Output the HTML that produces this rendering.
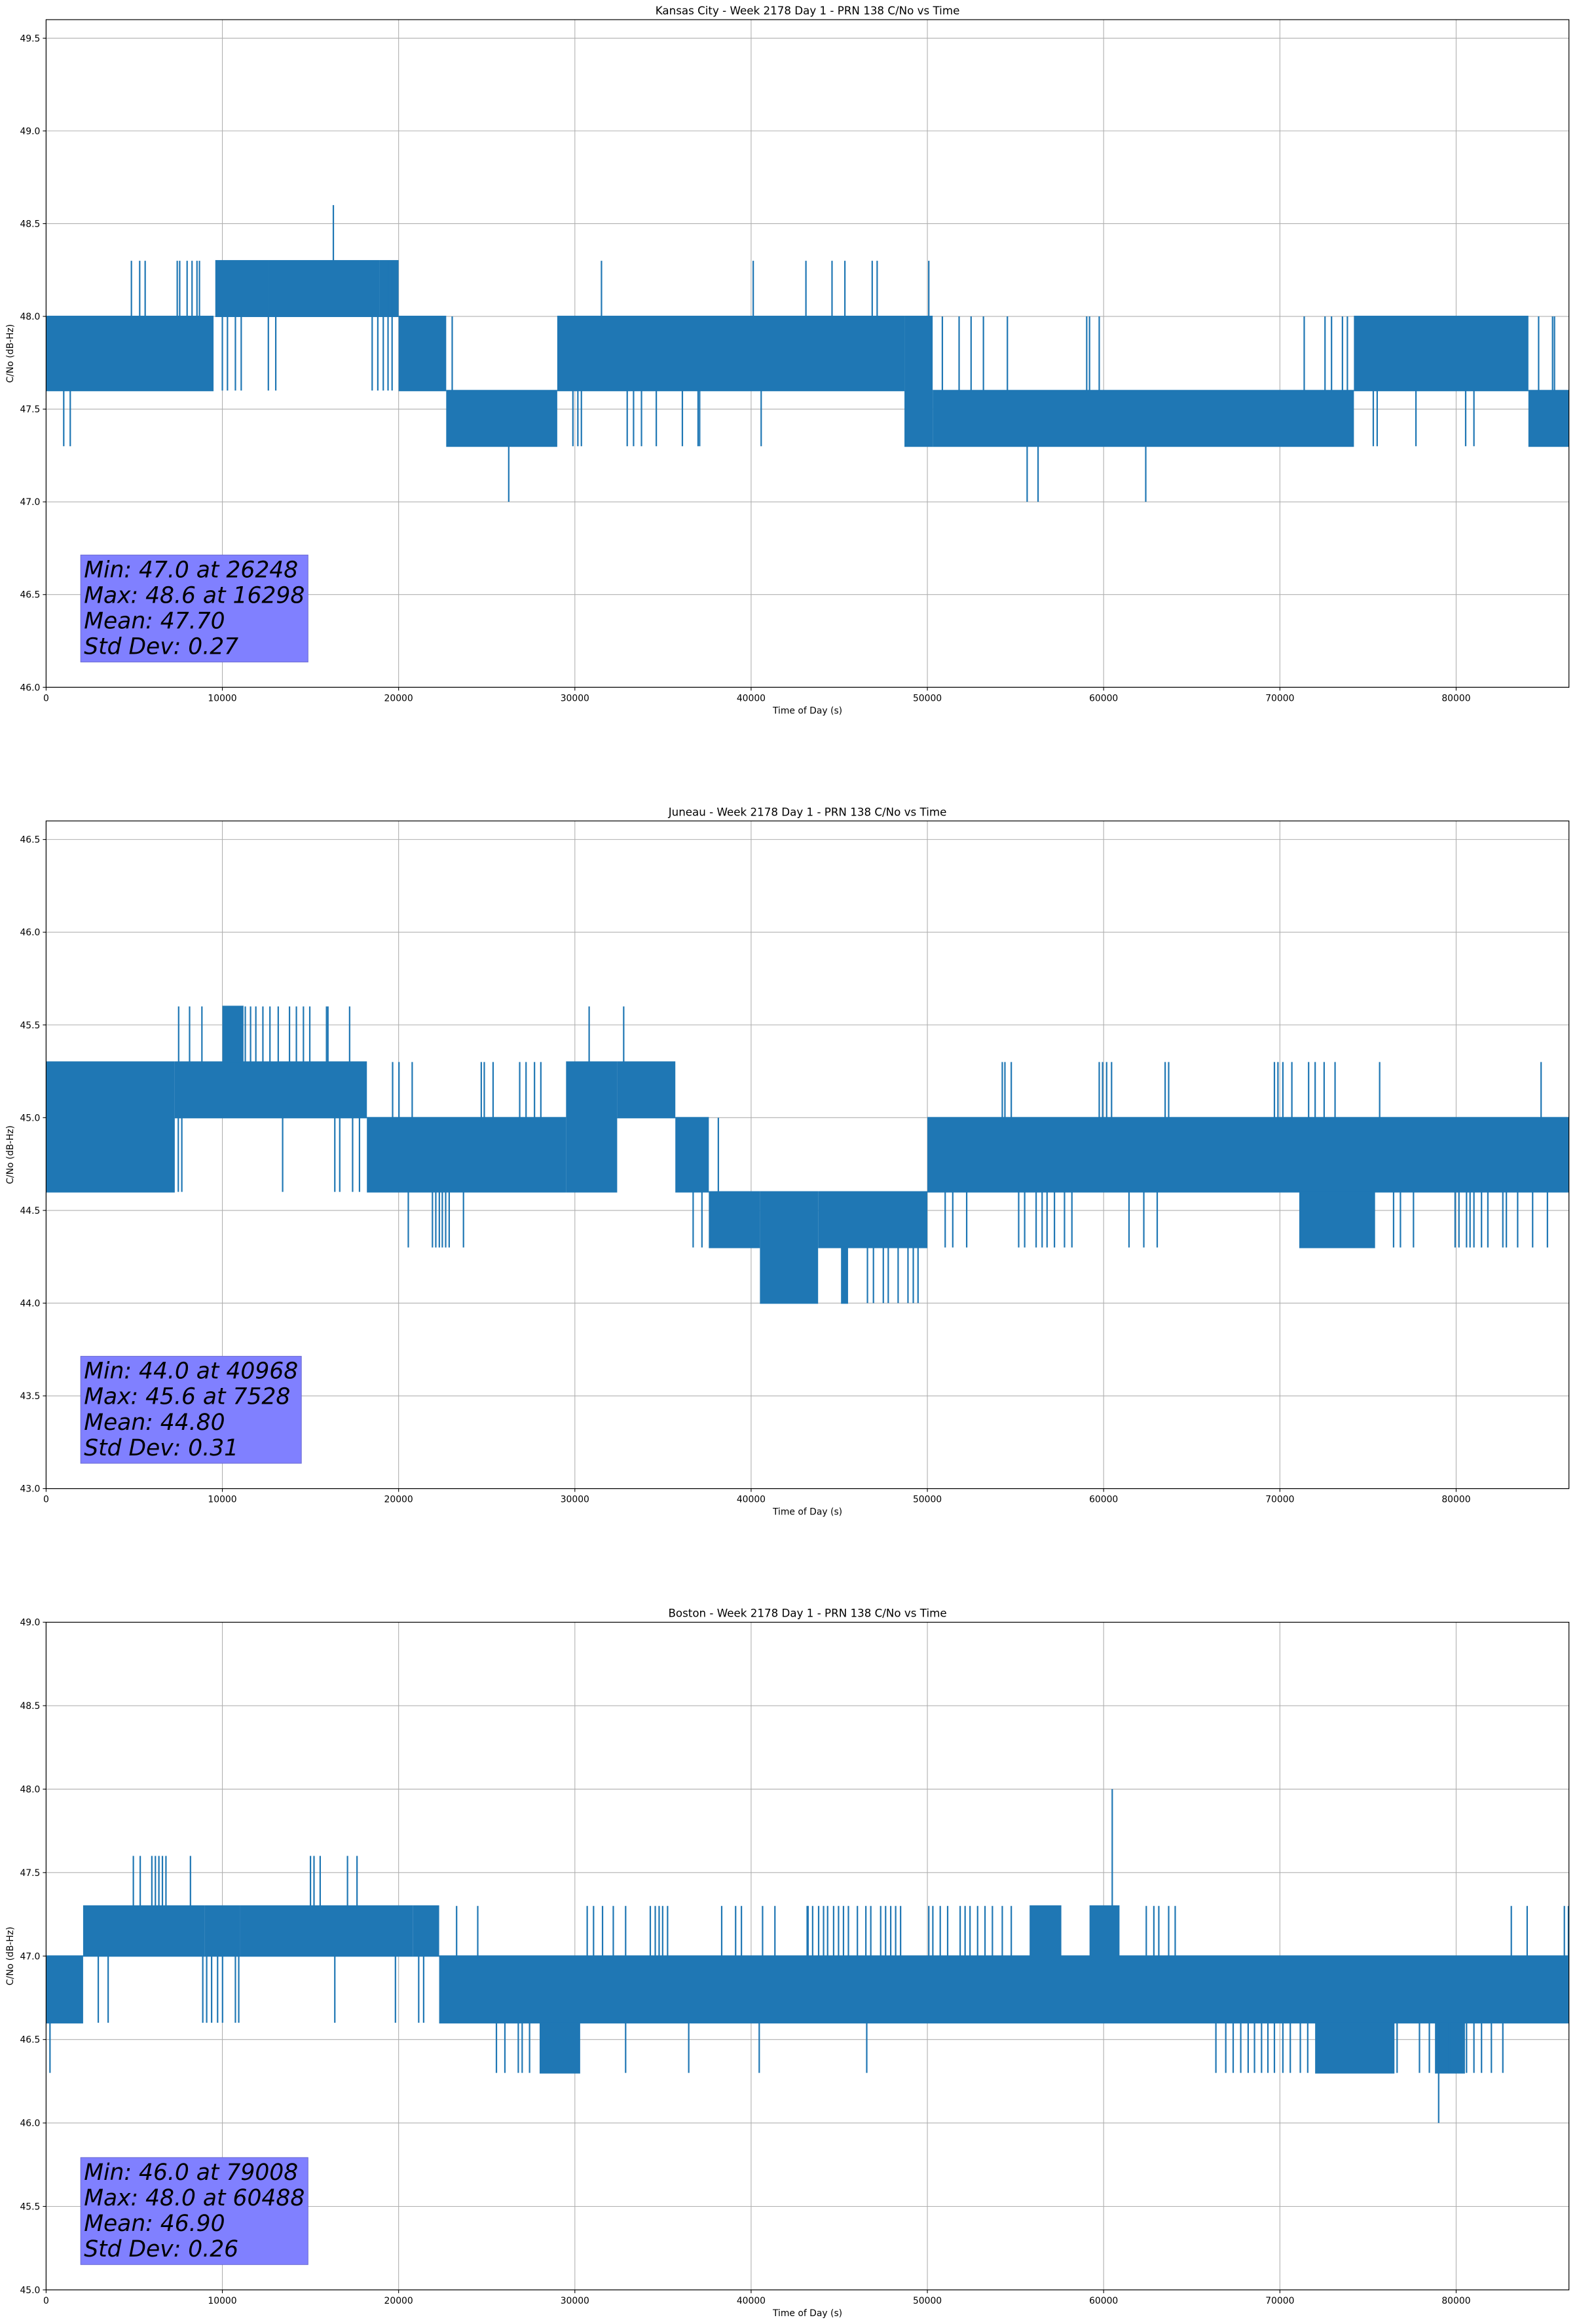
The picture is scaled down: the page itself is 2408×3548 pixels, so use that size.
<!DOCTYPE html>
<html><head><meta charset="utf-8">
<style>
html,body{margin:0;padding:0;background:#fff;}
svg{display:block;}
text{font-family:"DejaVu Sans","Liberation Sans",sans-serif;fill:#000;}
</style></head>
<body>
<svg id="fig" xmlns="http://www.w3.org/2000/svg" width="2408" height="3548" viewBox="0 0 2408 3548"></svg>
<script>
// ---- Data: Kansas City ----
const kcTitle = "Kansas City - Week 2178 Day 1 - PRN 138 C/No vs Time";
const kcYRange = [46.0, 49.6];
const kcYTicks = [46.0, 46.5, 47.0, 47.5, 48.0, 48.5, 49.0, 49.5];
const kcBlocks = [
  [0, 9500, 47.6, 48.0], [9600, 12600, 48.0, 48.3], [12600, 18900, 48.0, 48.3],
  [18900, 20000, 48.0, 48.3], [20000, 22700, 47.6, 48.0], [22700, 29000, 47.3, 47.6],
  [29000, 48700, 47.6, 48.0], [48700, 50300, 47.3, 48.0], [50300, 74200, 47.3, 47.6],
  [74200, 84100, 47.6, 48.0], [84100, 86400, 47.3, 47.6]
];
const kcSpikes = [
  [1000,47.3,47.6],[1370,47.3,47.6],
  [4840,48.0,48.3],[5310,48.0,48.3],[5620,48.0,48.3],[7440,48.0,48.3],[7580,48.0,48.3],[8000,48.0,48.3],[8280,48.0,48.3],[8560,48.0,48.3],[8700,48.0,48.3],
  [10000,47.6,48.0],[10290,47.6,48.0],[10740,47.6,48.0],[11070,47.6,48.0],[12610,47.6,48.0],[13030,47.6,48.0],
  [18500,47.6,48.0],[18820,47.6,48.0],[19130,47.6,48.0],[19400,47.6,48.0],[19630,47.6,48.0],
  [19400,48.0,48.3],[19630,48.0,48.3],[19740,48.0,48.3],
  [16298,48.3,48.6],[26248,47.0,47.3],[23040,47.6,48.0],
  [29890,47.3,47.6],[30170,47.3,47.6],[30370,47.3,47.6],[32970,47.3,47.6],[33330,47.3,47.6],[33780,47.3,47.6],[34620,47.3,47.6],[36100,47.3,47.6],[36990,47.3,47.6],[37080,47.3,47.6],[40570,47.3,47.6],
  [31510,48.0,48.3],[40120,48.0,48.3],[43110,48.0,48.3],[44590,48.0,48.3],[45320,48.0,48.3],[46870,48.0,48.3],[47150,48.0,48.3],[50080,48.0,48.3],
  [55660,47.0,47.3],[56280,47.0,47.3],[62390,47.0,47.3],
  [50850,47.6,48.0],[51800,47.6,48.0],[52480,47.6,48.0],[53180,47.6,48.0],[54540,47.6,48.0],[59040,47.6,48.0],[59200,47.6,48.0],[59750,47.6,48.0],
  [71380,47.6,48.0],[72560,47.6,48.0],[72930,47.6,48.0],[73550,47.6,48.0],[73830,47.6,48.0],
  [75300,47.3,47.6],[75520,47.3,47.6],[77720,47.3,47.6],[80540,47.3,47.6],[81010,47.3,47.6],
  [84680,47.6,48.0],[85470,47.6,48.0],[85580,47.6,48.0]
];
const kcStats = ["Min: 47.0 at 26248", "Max: 48.6 at 16298", "Mean: 47.70", "Std Dev: 0.27"];

// ---- Data: Juneau ----
const juTitle = "Juneau - Week 2178 Day 1 - PRN 138 C/No vs Time";
const juYRange = [43.0, 46.6];
const juYTicks = [43.0, 43.5, 44.0, 44.5, 45.0, 45.5, 46.0, 46.5];
const juBlocks = [
  [0, 7300, 44.6, 45.3], [7300, 18200, 45.0, 45.3], [18200, 29500, 44.6, 45.0],
  [29500, 32400, 44.6, 45.3], [32400, 35700, 45.0, 45.3], [35700, 37600, 44.6, 45.0],
  [37600, 40500, 44.3, 44.6], [40500, 43800, 44.0, 44.6], [43800, 50000, 44.3, 44.6],
  [50000, 86400, 44.6, 45.0], [10000, 11200, 45.3, 45.6], [45100, 45500, 44.0, 44.3],
  [71100, 75400, 44.3, 44.6]
];
const juSpikes = [
  [7520,45.3,45.6],[8140,45.3,45.6],[8840,45.3,45.6],[11300,45.3,45.6],[11600,45.3,45.6],[11900,45.3,45.6],[12300,45.3,45.6],[12700,45.3,45.6],
  [13170,45.3,45.6],[13810,45.3,45.6],[14200,45.3,45.6],[14600,45.3,45.6],[14960,45.3,45.6],[15910,45.3,45.6],[15990,45.3,45.6],[17220,45.3,45.6],
  [30810,45.3,45.6],[32770,45.3,45.6],
  [7500,44.6,45.0],[7700,44.6,45.0],[13420,44.6,45.0],[16380,44.6,45.0],[16660,44.6,45.0],[17390,44.6,45.0],[17780,44.6,45.0],
  [20550,44.3,44.6],[21920,44.3,44.6],[22110,44.3,44.6],[22310,44.3,44.6],[22480,44.3,44.6],[22670,44.3,44.6],[22870,44.3,44.6],[23680,44.3,44.6],
  [19660,45.0,45.3],[20020,45.0,45.3],[20770,45.0,45.3],[24690,45.0,45.3],[24860,45.0,45.3],[25360,45.0,45.3],[26870,45.0,45.3],[27230,45.0,45.3],[27710,45.0,45.3],[28070,45.0,45.3],
  [36710,44.3,44.6],[37210,44.3,44.6],[38140,44.6,45.0],
  [46600,44.0,44.3],[46940,44.0,44.3],[47500,44.0,44.3],[47780,44.0,44.3],[48340,44.0,44.3],[48900,44.0,44.3],[49200,44.0,44.3],[49470,44.0,44.3],
  [54250,45.0,45.3],[54400,45.0,45.3],[54760,45.0,45.3],[59750,45.0,45.3],[59940,45.0,45.3],[60170,45.0,45.3],[60450,45.0,45.3],[63490,45.0,45.3],[63690,45.0,45.3],
  [69690,45.0,45.3],[69890,45.0,45.3],[70170,45.0,45.3],[70680,45.0,45.3],[71630,45.0,45.3],[72000,45.0,45.3],[72510,45.0,45.3],[73130,45.0,45.3],[75660,45.0,45.3],[84820,45.0,45.3],
  [51010,44.3,44.6],[51440,44.3,44.6],[52230,44.3,44.6],[55180,44.3,44.6],[55520,44.3,44.6],[56170,44.3,44.6],[56510,44.3,44.6],[56790,44.3,44.6],[57210,44.3,44.6],[57780,44.3,44.6],[58200,44.3,44.6],
  [61440,44.3,44.6],[62280,44.3,44.6],[63040,44.3,44.6],[76450,44.3,44.6],[76840,44.3,44.6],[77580,44.3,44.6],
  [79940,44.3,44.6],[80160,44.3,44.6],[80590,44.3,44.6],[80790,44.3,44.6],[81010,44.3,44.6],[81440,44.3,44.6],[81800,44.3,44.6],
  [82650,44.3,44.6],[82850,44.3,44.6],[83490,44.3,44.6],[84340,44.3,44.6],[85180,44.3,44.6]
];
const juStats = ["Min: 44.0 at 40968", "Max: 45.6 at 7528", "Mean: 44.80", "Std Dev: 0.31"];

// ---- Data: Boston ----
const boTitle = "Boston - Week 2178 Day 1 - PRN 138 C/No vs Time";
const boYRange = [45.0, 49.0];
const boYTicks = [45.0, 45.5, 46.0, 46.5, 47.0, 47.5, 48.0, 48.5, 49.0];
const boBlocks = [
  [0, 2100, 46.6, 47.0], [2100, 9000, 47.0, 47.3], [9000, 11000, 47.0, 47.3],
  [11000, 20800, 47.0, 47.3], [20800, 22300, 47.0, 47.3], [22300, 86400, 46.6, 47.0],
  [28000, 30300, 46.3, 46.6], [55800, 57600, 47.0, 47.3], [59200, 60900, 47.0, 47.3],
  [72000, 76500, 46.3, 46.6], [78800, 80500, 46.3, 46.6]
];
const boSpikes = [
  [220,46.3,46.6],
  [4950,47.3,47.6],[5340,47.3,47.6],[6000,47.3,47.6],[6200,47.3,47.6],[6400,47.3,47.6],[6600,47.3,47.6],[6800,47.3,47.6],[8190,47.3,47.6],
  [15000,47.3,47.6],[15200,47.3,47.6],[15550,47.3,47.6],[17100,47.3,47.6],[17640,47.3,47.6],
  [2960,46.6,47.0],[3520,46.6,47.0],[8890,46.6,47.0],[9110,46.6,47.0],[9390,46.6,47.0],[9730,46.6,47.0],[10010,46.6,47.0],[10740,46.6,47.0],[10930,46.6,47.0],
  [16380,46.6,47.0],[19820,46.6,47.0],[21140,46.6,47.0],[21420,46.6,47.0],
  [23290,47.0,47.3],[24490,47.0,47.3],[30700,47.0,47.3],[31060,47.0,47.3],[31570,47.0,47.3],[32180,47.0,47.3],[32880,47.0,47.3],
  [34280,47.0,47.3],[34560,47.0,47.3],[34780,47.0,47.3],[34980,47.0,47.3],[35260,47.0,47.3],[38330,47.0,47.3],[39120,47.0,47.3],[39450,47.0,47.3],[40650,47.0,47.3],[41350,47.0,47.3],[43230,47.0,47.3],
  [25550,46.3,46.6],[26030,46.3,46.6],[26790,46.3,46.6],[27010,46.3,46.6],[27430,46.3,46.6],[32880,46.3,46.6],[36460,46.3,46.6],[40460,46.3,46.6],
  [43180,47.0,47.3],[43490,47.0,47.3],[43830,47.0,47.3],[44110,47.0,47.3],[44340,47.0,47.3],[44680,47.0,47.3],[44960,47.0,47.3],[45240,47.0,47.3],[45520,47.0,47.3],
  [46030,47.0,47.3],[46510,47.0,47.3],[46790,47.0,47.3],[47350,47.0,47.3],[47630,47.0,47.3],[47920,47.0,47.3],[48200,47.0,47.3],[48480,47.0,47.3],
  [50080,47.0,47.3],[50310,47.0,47.3],[50730,47.0,47.3],[51150,47.0,47.3],[51860,47.0,47.3],[52140,47.0,47.3],[52420,47.0,47.3],[52850,47.0,47.3],[53270,47.0,47.3],[53690,47.0,47.3],[54250,47.0,47.3],[54760,47.0,47.3],
  [62420,47.0,47.3],[62850,47.0,47.3],[63130,47.0,47.3],[63690,47.0,47.3],[64060,47.0,47.3],[83130,47.0,47.3],[84030,47.0,47.3],[86140,47.0,47.3],[86370,47.0,47.3],
  [60488,47.3,48.0],[46560,46.3,46.6],
  [66370,46.3,46.6],[66930,46.3,46.6],[67350,46.3,46.6],[67780,46.3,46.6],[68200,46.3,46.6],[68560,46.3,46.6],[68960,46.3,46.6],[69320,46.3,46.6],[69690,46.3,46.6],[70170,46.3,46.6],[70590,46.3,46.6],[71160,46.3,46.6],[71580,46.3,46.6],
  [76650,46.3,46.6],[77920,46.3,46.6],[78480,46.3,46.6],[79040,46.3,46.6],[79610,46.3,46.6],[80170,46.3,46.6],[80590,46.3,46.6],[81010,46.3,46.6],[81440,46.3,46.6],[82000,46.3,46.6],[82650,46.3,46.6],
  [79008,46.0,46.3]
];
const boStats = ["Min: 46.0 at 79008", "Max: 48.0 at 60488", "Mean: 46.90", "Std Dev: 0.26"];

const xTicks = [0, 10000, 20000, 30000, 40000, 50000, 60000, 70000, 80000];
const xRange = [0, 86400];

const NS = "http://www.w3.org/2000/svg";
const svg = document.getElementById("fig");
const LEFT = 70.4, RIGHT = 2395.7;
const BLUE = "#1f77b4";

function mk(tag, attrs, parent) {
  const e = document.createElementNS(NS, tag);
  for (const k in attrs) e.setAttribute(k, attrs[k]);
  (parent || svg).appendChild(e);
  return e;
}

function drawPlot(key, top, bottom, title, yRange, yTicks, blocks, spikes, stats) {
  const g = mk("g", {});
  
  
  const xs = t => LEFT + (t - xRange[0]) / (xRange[1] - xRange[0]) * (RIGHT - LEFT);
  const ys = v => bottom - (v - yRange[0]) / (yRange[1] - yRange[0]) * (bottom - top);

  const grid = mk("g", {}, g);
  
  
  xTicks.forEach(t => {
    const l = mk("line", {x1: xs(t), x2: xs(t), y1: top, y2: bottom, stroke: "#b0b0b0", "stroke-width": 1.1}, grid);
    
    
  });
  yTicks.forEach(v => {
    const l = mk("line", {x1: LEFT, x2: RIGHT, y1: ys(v), y2: ys(v), stroke: "#b0b0b0", "stroke-width": 1.1}, grid);
    
    
  });

  const series = mk("g", {}, g);
  
  
  blocks.forEach(b => {
    const r = mk("rect", {x: xs(b[0]), y: ys(b[3]) - 1, width: Math.max(1, xs(b[1]) - xs(b[0])), height: ys(b[2]) - ys(b[3]) + 2, fill: BLUE}, series);
    
    
  });
  spikes.forEach(s => {
    const l = mk("line", {x1: xs(s[0]), x2: xs(s[0]), y1: ys(s[1]), y2: ys(s[2]), stroke: BLUE, "stroke-width": 2.2}, series);
    
    
  });

  const frame = mk("rect", {x: LEFT, y: top, width: RIGHT - LEFT, height: bottom - top, fill: "none", stroke: "#000", "stroke-width": 1.2}, g);
  
  

  xTicks.forEach(t => {
    const tk = mk("line", {x1: xs(t), x2: xs(t), y1: bottom, y2: bottom + 5, stroke: "#000", "stroke-width": 1.1}, g);
    
    
    const tx = mk("text", {x: xs(t), y: bottom + 21, "text-anchor": "middle", "font-size": 13.9}, g);
    tx.textContent = String(t);
    
    
  });
  yTicks.forEach(v => {
    const tk = mk("line", {x1: LEFT - 5, x2: LEFT, y1: ys(v), y2: ys(v), stroke: "#000", "stroke-width": 1.1}, g);
    
    
    const tx = mk("text", {x: LEFT - 9, y: ys(v) + 5, "text-anchor": "end", "font-size": 13.9}, g);
    tx.textContent = v.toFixed(1);
    
    
  });

  const ttl = mk("text", {x: (LEFT + RIGHT) / 2, y: top - 8, "text-anchor": "middle", "font-size": 16.7}, g);
  ttl.textContent = title;
  
  

  const xl = mk("text", {x: (LEFT + RIGHT) / 2, y: bottom + 40, "text-anchor": "middle", "font-size": 13.9}, g);
  xl.textContent = "Time of Day (s)";
  
  

  const cy = (top + bottom) / 2;
  const yl = mk("text", {x: 20, y: cy, "text-anchor": "middle", "font-size": 13.9, transform: "rotate(-90 20 " + cy + ")"}, g);
  yl.textContent = "C/No (dB-Hz)";
  
  

  const boxG = mk("g", {}, g);
  
  
  const boxBottom = bottom - 38.6, boxTop = boxBottom - 163.4, boxLeft = 123.2;
  const rect = mk("rect", {x: boxLeft, y: boxTop, width: 350, height: boxBottom - boxTop, fill: "#8080ff", stroke: "#6a6ad0", "stroke-width": 1}, boxG);
  
  
  let maxW = 0;
  stats.forEach((s, i) => {
    const tx = mk("text", {x: boxLeft + 5, y: boxTop + 34 + i * 39.1, "font-size": 34.5, "font-style": "italic"}, boxG);
    tx.textContent = s;
    
    
    try { maxW = Math.max(maxW, tx.getComputedTextLength()); } catch (e) {}
  });
  if (maxW > 0) rect.setAttribute("width", maxW + 10);
}

drawPlot("kansas-city", 30, 1049.3, kcTitle, kcYRange, kcYTicks, kcBlocks, kcSpikes, kcStats);
drawPlot("juneau", 1253.3, 2272.6, juTitle, juYRange, juYTicks, juBlocks, juSpikes, juStats);
drawPlot("boston", 2476.6, 3495.9, boTitle, boYRange, boYTicks, boBlocks, boSpikes, boStats);
</script>
</body></html>
